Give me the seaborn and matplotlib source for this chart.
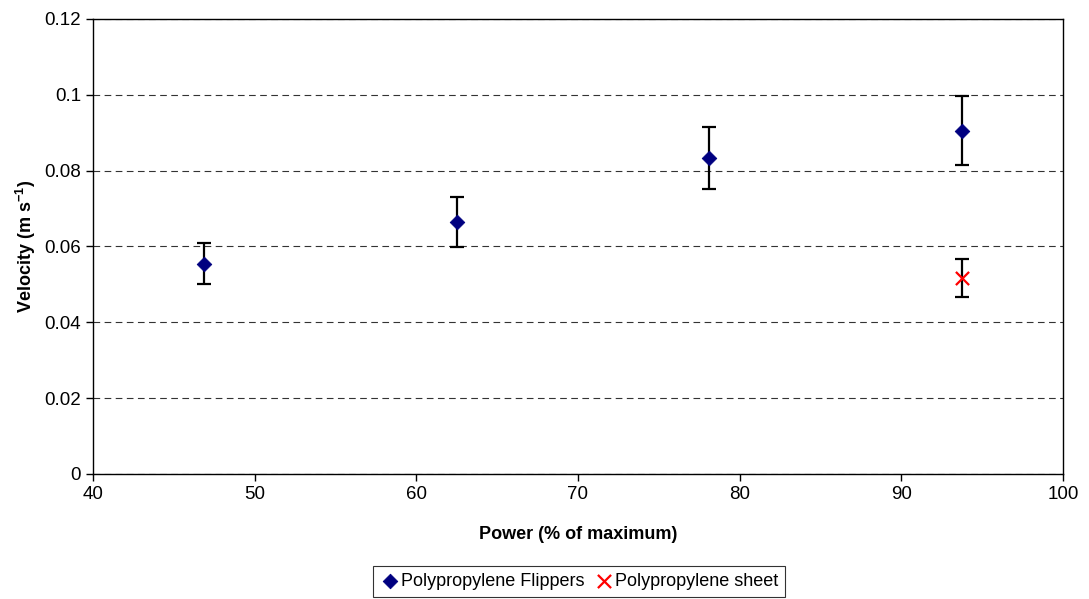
import numpy as np
import pandas as pd
import seaborn as sns
import matplotlib
matplotlib.use('Agg')
import matplotlib.pyplot as plt

# data
power = [46.875, 62.5, 78.125, 93.75]
vel_flippers = [0.0555, 0.0665, 0.0833, 0.0905]
err_flippers = [0.0055, 0.0066, 0.0082, 0.0091]

power_sheet = [93.75]
vel_sheet = [0.0517]
err_sheet = [0.0051]

sns.set_style('white')
plt.rcParams['font.family'] = ['Liberation Sans', 'DejaVu Sans']
plt.rcParams['mathtext.fontset'] = 'custom'
plt.rcParams['mathtext.bf'] = 'Liberation Sans:bold'
plt.rcParams['mathtext.rm'] = 'Liberation Sans'
plt.rcParams['text.color'] = 'black'
plt.rcParams['axes.labelcolor'] = 'black'
plt.rcParams['xtick.color'] = 'black'
plt.rcParams['ytick.color'] = 'black'

flippers = pd.DataFrame({'power': power, 'velocity': vel_flippers})
sheet = pd.DataFrame({'power': power_sheet, 'velocity': vel_sheet})

fig = plt.figure(figsize=(10.89, 5.99), dpi=100)
ax = fig.add_axes([0.0854, 0.2087, 0.8906, 0.7596])

ax.errorbar(power, vel_flippers, yerr=err_flippers, fmt='none', ecolor='black',
            elinewidth=1.6, capsize=5, capthick=1.6, zorder=2)
ax.errorbar(power_sheet, vel_sheet, yerr=err_sheet, fmt='none', ecolor='black',
            elinewidth=1.6, capsize=5, capthick=1.6, zorder=2)

sns.scatterplot(data=flippers, x='power', y='velocity', ax=ax, marker='D',
                color='#000080', edgecolor='#000080', s=55, zorder=3,
                label='Polypropylene Flippers')
sns.scatterplot(data=sheet, x='power', y='velocity', ax=ax, marker='x',
                color='red', s=90, linewidth=1.6, zorder=3,
                label='Polypropylene sheet')

ax.set_xlim(40, 100)
ax.set_ylim(0, 0.12)
ax.set_xticks(np.arange(40, 101, 10))
ax.set_yticks(np.arange(0, 0.121, 0.02))
ax.set_yticklabels(['0', '0.02', '0.04', '0.06', '0.08', '0.1', '0.12'])
ax.yaxis.grid(True, color='#333333', linestyle=(0, (6, 4)), linewidth=0.8)
ax.set_axisbelow(True)

for s in ax.spines.values():
    s.set_color('black')
    s.set_linewidth(1.0)
ax.tick_params(axis='both', direction='out', length=5, width=1, color='black',
               labelsize=13.5, bottom=True, left=True, labelcolor='black')

ax.set_xlabel('Power (% of maximum)', fontsize=13, fontweight='bold', labelpad=17)
ax.set_ylabel(r'Velocity (m s$\mathbf{^{-1}}$)', fontsize=13, fontweight='bold', labelpad=5)

ax.legend_.remove()
handles, labels = ax.get_legend_handles_labels()
leg = fig.legend(handles, labels, loc='lower center', bbox_to_anchor=(0.532, 0.0),
                 ncol=2, frameon=True, fancybox=False, edgecolor='black',
                 fontsize=13, handletextpad=0.1, columnspacing=0.6,
                 borderpad=0.4, handlelength=1.0, borderaxespad=0.1)
leg.get_frame().set_linewidth(0.8)

fig.savefig('out.png', dpi=100)
